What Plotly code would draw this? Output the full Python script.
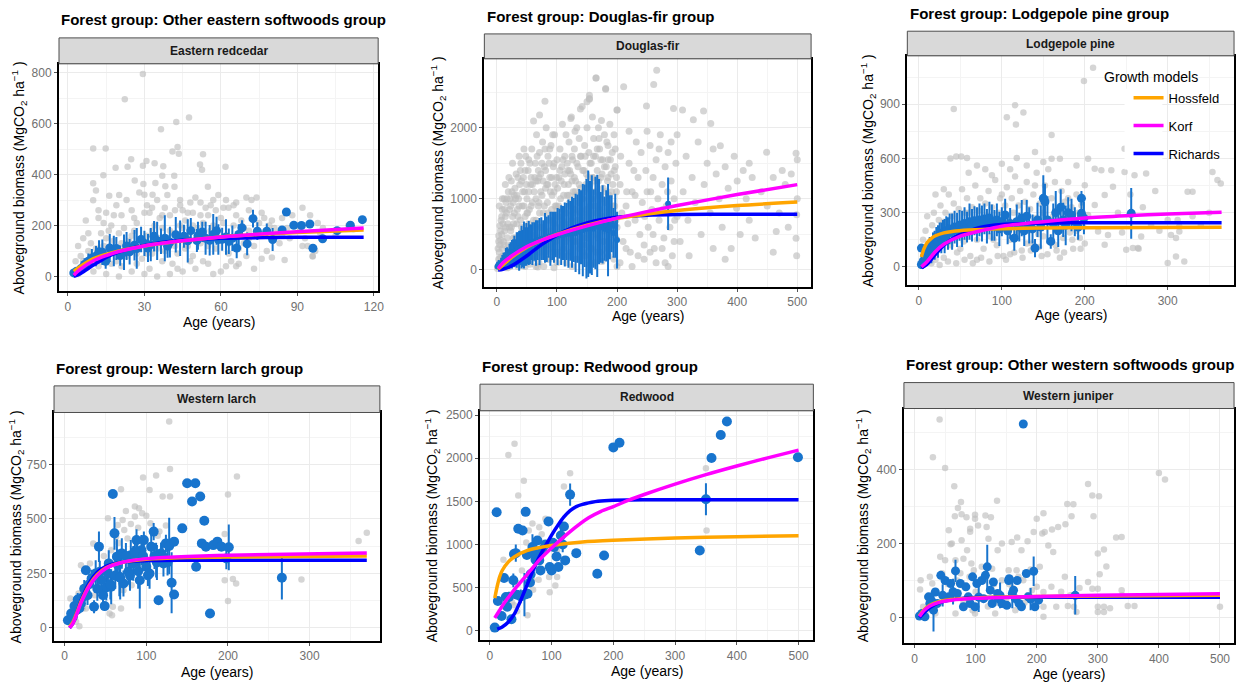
import plotly.graph_objects as go

W, H = 1247, 685

# ---------------- DATA ----------------
titles = ["Forest group: Other eastern softwoods group", "Forest group: Douglas-fir group",
          "Forest group: Lodgepole pine group", "Forest group: Western larch group",
          "Forest group: Redwood group", "Forest group: Other western softwoods group"]
species = ["Eastern redcedar", "Douglas-fir", "Lodgepole pine", "Western larch", "Redwood", "Western juniper"]
model_names = ["Hossfeld", "Korf", "Richards"]

# ---- Eastern redcedar ----
ec_gray = [(29.4,795),(22.3,696),(42.5,607),(47.5,624),(43,508),(43.5,482),(41,491),(36.5,578),(9.9,503),(14.8,503),
           (9.9,366),(9.9,299),(13.9,397),(24.8,460),(23.4,431),(18.7,427),(29.4,435),(30.8,453),(34,445),(37.4,433),
           (37,396),(41.7,396),(41.8,352),(51.8,440),(52.6,419),(54.9,352),(53,480),(61.8,431),(34.3,367),(29.6,363),
           (26.2,377),(30,321),(33.2,321),(38.2,354),(16.2,317),(20.1,320),(11,338),
           (12,230),(15,250),(17,200),(19,280),(21,240),(23,300),(25,260),(27,210),(28,330),(31,280),(32,250),(35,300),
           (36,230),(38,270),(39,320),(40,240),(44,300),(45,260),(46,220),(48,290),(49,250),(50,310),(54,270),(55,240),
           (57,300),(58,260),(59,320),(60,230),(62,300),(63,270),(65,280),(66,240),(68,220),(70,310),(72,300),(74,310),
           (76,250),(77,230),(79,200),(80,220),(83,130),(85,65),(88,240),(92,270),(95,240),(96,80),(97,100),(78,100),
           (80,75),(76,70),(66,40),(64,60),(70,80),(60,20),(57,10),(50,30),(45,20),(40,10),(35,0),(30,10),(25,20),(20,0),
           (15,10),(10,20),(5,30),(3,60),(4,120),(6,150),(8,100),(7,220),(9,80),(11,60),(13,170),(14,120),(16,90),(18,140),
           (20,170),(22,100),(24,140),(26,180),(28,120),(29,70),(31,160),(33,90),(34,200),(36,150),(38,100),(40,180),
           (42,120),(44,200),(46,110),(47,160),(49,80),(51,190),(52,130),(53,60),(56,180),(58,110),(61,150),(63,90),
           (67,160),(69,130),(71,180),(73,120),(75,170),(81,190),(84,160),(86,190),(90,200),(93,150),(94,120),(99,170),
           (100,190),(105,160),(110,200),(112,185),(4,10),(6,60),(12,40),(17,50),(21,40),(27,50),(32,30),(37,60),(41,50),
           (43,30),(48,60),(55,50),(62,40),(67,50),(73,30),(92,120),(96,78),(84,230),
           (5,80),(7,50),(9,130),(11,110),(13,60),(15,150),(17,110),(19,60),(21,130),(23,80),(25,160),(27,90),(29,150),
           (31,90),(33,180),(35,110),(37,190),(39,140),(41,170),(43,90),(45,190),(47,120),(49,200),(51,140),(53,210),
           (55,120),(57,200),(59,150),(61,210),(63,130),(65,200),(67,110),(69,190),(71,150),(75,210),(82,170),(87,150),
           (91,180),(98,210),(14,210),(18,240),(26,230),(30,250),(37,240),(42,260),(47,250),(52,240),(56,280),(61,270),
           (66,290),(71,260),(8,170),(12,260),(16,180),(22,190),(33,270),(44,280),(52,290)]
ec_blue = [(2.3,14,10),(3.4,21,15),(5,30,20),(6.5,47,25),(8,60,30),(9.4,73,35),(11,80,40),(12.2,97,45),(13.5,95,50),
           (14.8,60,30),(16.4,112,55),(18,100,60),(19,110,45),(20.5,82,40),(22,95,70),(23,120,55),(24.2,97,50),
           (26.1,123,60),(27,110,80),(28.7,145,50),(30,130,50),(31.4,112,55),(32.5,125,65),(33.8,158,60),(35,140,75),
           (36.5,138,50),(38,150,90),(39.1,119,45),(40,135,60),(42.3,164,70),(44,150,70),(45.5,158,45),(47,140,85),
           (48.2,180,50),(50.6,141,45),(51,160,55),(52.7,175,40),(54,150,65),(55.6,142,60),(57,165,80),(58.3,180,55),
           (59,145,60),(60.5,146,45),(62,155,70),(63.1,138,50),(64.5,150,50),(66.2,112,40),(67,165,40),(68.3,191,30),
           (70.3,128,45),(72.6,227,35),(74.3,178,35),(78,178,30),(80.3,145,45),(84,183,0),(85.7,253,0),(88.6,201,0),
           (91.6,200,0),(94.9,206,0),(96.1,111,0),(99.9,148,0),(105.6,180,0),(110.8,201,0),(115.5,223,0)]
ec_hossfeld = [(2.3,20),(5,40),(10,70),(15,87),(20,100),(30,120),(45,140),(60,155),(80,168),(100,177),(116,183)]
ec_korf = [(2.3,5),(5,30),(10,62),(15,82),(20,98),(30,120),(45,140),(60,155),(80,170),(100,182),(116,190)]
ec_richards = [(2.3,0),(5,12),(10,45),(15,75),(20,97),(30,122),(45,142),(60,150),(80,153),(100,154),(116,154)]

# ---- Douglas-fir ----
df_gray = [(266,2808),(261,2607),(165,2700),(211,2575),(181,2542),(154,2411),(154,2458),(150,2364),(139,2262),(123,2131),
           (80,2374),(71,2178),(61,2093),(200,2248),(249,2304),(294,2271),(309,2248),(344,2234),(327,2112),(356,2061),
           (372,1748),(449,1654),(498,1640),(499,776),(499,201),(498,444),(465,542),(399,869),
           (1,20),(2,60),(3,150),(4,250),(5,350),(6,420),(7,100),(8,500),(9,300),(10,200),(3,480),(5,620),(7,700),(9,850),
           (2,300),(6,180),(8,40),(10,650),(4,900),(9,1000),
           (11,80),(12,350),(13,550),(14,750),(15,950),(16,150),(17,450),(18,650),(19,1100),(20,250),(21,850),(22,50),
           (23,550),(24,1250),(25,350),(26,750),(27,950),(28,150),(29,1050),(30,450),(12,1000),(14,1200),(18,30),(20,1300),
           (22,1000),(26,1500),(28,650),(30,1150),(16,800),(24,600),
           (31,250),(32,1350),(33,650),(34,850),(35,50),(36,1000),(37,400),(38,1200),(39,700),(40,1500),(41,150),(42,900),
           (43,550),(44,1300),(45,300),(46,1100),(47,750),(48,1600),(49,450),(50,1000),(51,200),(52,1400),(53,650),(54,850),
           (55,80),(56,1200),(57,500),(58,1700),(59,950),(60,350),(33,1050),(37,1600),(41,1250),(45,1700),(47,50),(53,1550),
           (57,1300),(59,150),(35,750),(50,600),
           (62,1100),(63,250),(64,1500),(65,700),(66,1900),(67,450),(68,1250),(69,900),(70,100),(71,1650),(72,600),(73,1350),
           (74,300),(75,1050),(76,1800),(77,800),(78,50),(79,1450),(80,550),(81,1150),(82,2000),(83,350),(84,950),(85,1600),
           (86,700),(87,150),(88,1300),(89,450),(90,1750),(91,850),(92,1050),(93,250),(94,1450),(95,650),(96,1900),(97,1200),
           (98,400),(99,900),(100,1550),(100,100),(65,1250),(70,1300),(75,600),(80,1700),(85,1200),(90,300),(95,1100),(68,40),
           (88,1700),(93,1900),
           (102,750),(103,1300),(104,200),(105,1700),(106,1000),(107,500),(108,1450),(109,2050),(110,850),(111,300),(112,1200),
           (113,1600),(114,650),(115,1900),(116,100),(117,1050),(118,1400),(119,450),(120,1800),(121,950),(122,250),(123,1350),
           (124,2150),(125,700),(126,1550),(127,1100),(128,400),(129,1700),(130,850),(131,1250),(132,150),(133,2000),(134,550),
           (135,1450),(136,950),(137,1850),(138,300),(139,1150),(140,1600),(141,700),(142,2300),(143,1000),(144,450),(145,1400),
           (146,1750),(147,200),(148,1200),(149,850),(150,2000),(110,1550),(120,600),(130,1950),(140,350),(125,1250),
           (151,550),(152,1300),(153,1650),(154,2400),(155,900),(156,300),(157,1500),(158,1100),(159,2150),(160,650),(161,1850),
           (162,1250),(163,100),(164,1600),(165,2700),(166,800),(167,1400),(168,450),(169,2000),(170,1050),(171,1700),(172,250),
           (173,1300),(174,2100),(175,750),(176,1550),(177,1150),(178,400),(179,1900),(180,950),(181,2550),(182,1450),(183,600),
           (184,1250),(185,1750),(186,200),(187,1050),(188,2050),(189,800),(190,1350),(191,500),(192,1650),(193,1200),(194,350),
           (195,1900),(196,900),(197,1450),(198,700),(199,1100),(200,2250),(200,50),(185,1550),(170,1850),(160,1000),(155,1200),
           (205,1200),(210,400),(215,900),(220,1500),(222,250),(225,1100),(230,700),(232,1800),(235,1300),(238,500),(240,1650),
           (242,950),(245,150),(248,1400),(250,1100),(252,600),(255,1750),(258,850),(260,1300),(262,300),(265,1550),(268,1000),
           (270,700),(272,1900),(275,1200),(278,450),(280,1450),(282,900),(285,1650),(288,600),(290,1250),(292,200),(295,1000),
           (298,1500),(300,750),(300,1900),(270,1700),(250,1950),(230,1050),(260,500),(280,100),(220,1950),(290,1800),
           (305,400),(310,1100),(315,1600),(318,700),(320,200),(325,1300),(330,950),(335,1800),(340,500),(345,1200),(350,1500),
           (355,800),(360,300),(365,1350),(370,1000),(375,600),(380,1450),(385,1150),(390,300),(395,1600),(400,1250),(405,500),
           (410,1400),(415,1000),(420,700),(425,1300),(430,450),(440,1100),(450,900),(460,1300),(470,800),(475,1400),(480,1200),
           (485,600),(490,1350),(500,1000),(500,1550),(360,1700),(380,150),(420,1500),(460,250),
           (15,30),(25,80),(35,150),(45,100),(55,300),(65,50),(75,200),(85,350),(95,30),(105,250),(115,400),(125,50),(135,150),
           (145,350),(155,80),(165,250),(175,120),(185,400),(195,150),(205,100),(215,300),(225,50),(235,200),(245,350),(255,250),
           (265,100),(275,300),(285,50),(295,400),(40,350),(60,600),(80,250),(110,650),(130,550),(150,450),(170,600),(190,300),
           (50,800),(70,950),(90,550),(100,850),(120,1050),(140,800),(160,1300),(180,700),(200,600),(130,1100),(150,750),
           (175,1000),(208,800),(218,650),(228,1400),(246,750),(256,1100),(276,850),(284,1100),(296,700),(206,1600),(216,1100),
           (3,400),(6,550),(8,750),(11,400),(13,850),(15,600),(17,1000),(19,350),(21,600),(23,900),(25,1100),(27,450),(29,800),
           (31,1000),(33,400),(35,1300),(37,900),(39,1400),(41,600),(43,1100),(45,900),(47,1400),(49,1200),(51,800),(53,1100),
           (55,1500),(57,900),(59,1200),(61,700),(63,1300),(65,1000),(67,1600),(69,1400),(71,800),(73,1100),(75,1500),
           (77,1250),(79,900),(81,1400),(83,1200),(85,800),(87,1500),(89,1100),(91,1300),(93,700),(95,1500),(97,900),
           (99,1300),(101,1150),(103,900),(105,1400),(107,1250),(109,700),(111,1050),(113,1350),(115,800),(117,1500),
           (119,1200),(121,1400),(123,900),(125,1600),(127,800),(129,1300),(131,1050),(133,1500),(135,700),(137,1200),
           (139,1600),(141,1000),(143,1400),(145,1100),(147,1600),(149,1350),(151,1150),(153,800),(155,1500),(157,1000),
           (159,1300),(161,1600),(163,900),(165,1100),(167,1700),(169,1250),(171,850),(173,1550),(175,1350),(177,650),
           (179,1450),(181,1100),(183,1800),(185,1300),(187,850),(189,1550),(191,1100),(193,900),(195,1400),(197,1700),
           (199,1300),(5,100),(12,200),(18,280),(24,150),(32,350),(38,100),(44,450),(52,350),(58,200),(64,400),(72,250),
           (78,450),(84,150),(92,400),(98,250),(106,600),(112,450),(118,200),(124,500),(132,400),(138,650),(144,250),
           (152,500),(158,300),(166,500),(172,650),(178,550),(184,300),(192,650),(198,450)]
df_blue = [(1,50,40),(3,80,60),(5,60,50),(7,90,80),(9,110,100),(11,120,120),(13,140,110),(15,160,150),(17,180,140),
           (19,170,130),(21,200,170),(23,230,160),(25,220,200),(27,250,180),(29,260,220),(31,240,190),(33,280,250),
           (35,300,230),(37,270,280),(39,310,240),(41,320,300),(43,300,260),(45,350,330),(47,330,270),(49,360,300),
           (51,340,260),(53,380,310),(55,360,280),(57,390,250),(59,370,300),(62,400,270),(65,380,320),(68,420,280),
           (71,400,330),(74,440,300),(77,420,280),(80,450,350),(83,430,320),(86,470,300),(89,440,380),(92,480,340),
           (95,460,360),(98,500,320),(101,470,400),(104,510,350),(107,490,420),(110,520,380),(113,500,450),(116,540,400),
           (119,510,480),(122,550,420),(125,530,500),(128,560,450),(131,520,550),(134,580,480),(137,540,600),(140,600,520),
           (143,560,650),(146,620,580),(149,580,700),(152,650,750),(155,600,650),(158,630,700),(161,580,550),(164,660,650),
           (167,620,720),(170,680,600),(173,600,500),(176,640,550),(179,580,450),(182,620,500),(185,560,650),(188,600,450),
           (191,650,400),(194,520,350),(197,620,450),(200,420,400),(285,930,370)]
df_hossfeld = [(2,10),(10,70),(25,180),(50,320),(75,420),(100,500),(150,630),(200,725),(250,785),(300,835),(400,905),(500,955)]
df_korf = [(2,20),(10,100),(25,200),(50,330),(75,420),(100,495),(150,620),(200,729),(250,820),(300,906),(400,1060),(500,1200)]
df_richards = [(2,0),(10,10),(25,60),(50,200),(75,360),(100,490),(125,590),(150,660),(175,710),(200,740),(250,770),(300,780),
               (400,782),(500,782)]

# ---- Lodgepole pine ----
lp_gray = [(210,1101),(199,1028),(42,873),(116,894),(106,827),(126,854),(117,787),(160,730),(248,653),(51,611),(58,602),
           (118,602),(140,635),(130,561),(88,507),(160,598),(170,598),(204,598),(212,543),(220,534),(232,534),(248,525),
           (260,507),(274,516),(354,525),(364,461),(330,415),(324,415),(300,22),(310,58),(314,196),(314,223),(304,177),
           (312,260),(258,104),(264,104),(268,168),(224,122),(228,177),(216,196),(204,287),(212,342),(224,397),(234,443),
           (200,452),(5,150),(8,200),(10,280),(12,120),(14,60),(16,230),(18,300),(20,180),(22,90),(24,260),(26,340),(28,150),
           (30,50),(32,300),(34,220),(36,400),(38,120),(40,280),(42,350),(44,180),(46,80),(48,320),(50,240),(52,430),(54,140),
           (56,300),(58,380),(60,200),(62,60),(64,330),(66,260),(68,450),(70,150),(72,310),(74,380),(76,220),(78,100),(80,350),
           (82,280),(84,420),(86,170),(88,330),(90,250),(92,480),(94,120),(96,300),(98,380),(100,210),(102,60),(104,340),
           (106,440),(108,260),(110,150),(112,380),(114,300),(116,500),(118,180),(120,340),(122,420),(124,90),(126,270),
           (128,360),(130,470),(132,200),(134,320),(136,130),(138,400),(140,270),(142,520),(144,180),(146,350),(148,60),
           (150,300),(152,450),(154,230),(156,540),(158,140),(160,380),(162,280),(164,470),(166,90),(168,330),(170,220),
           (172,420),(174,160),(176,360),(178,270),(180,470),(182,190),(184,330),(186,100),(188,240),(190,400),(192,300),
           (194,160),(196,340),(198,220),(200,130),(15,20),(25,10),(35,30),(45,20),(55,40),(65,20),(75,50),(85,30),(95,60),
           (105,40),(115,80),(125,50),(135,90),(145,110),(155,70),(165,120),(175,80),(185,150),(195,100),(60,520),(70,560),
           (80,540),(100,570),(110,540),(150,580),(190,560),(38,600),(45,610),(20,400),(30,430),(250,95),(265,100),(280,230),
           (290,200),(300,260),(310,160),(320,30),(330,280),(340,230),(350,300),(360,480),(240,300),(245,190),(255,400),
           (270,330),(285,420),(10,100),(20,40),(30,250),(50,100),(70,40),(90,150),(110,70),(130,130),(150,170),(170,50),
           (190,200),(40,200),(60,300),(80,220),(100,400),(120,250),(140,450),(160,240),(180,380)]
lp_blue = [(3,104,0),(3,13,25),(5,30,40),(7,60,50),(9,45,35),(11,80,60),(13,110,55),(15,90,70),(17,130,60),(19,120,80),
           (21,150,70),(23,140,90),(25,170,75),(27,160,85),(29,190,70),(31,170,95),(33,200,80),(35,185,90),(37,210,85),
           (40,195,100),(43,220,90),(46,205,95),(49,230,85),(52,210,100),(55,240,90),(58,220,85),(61,250,100),(64,230,90),
           (67,255,80),(70,235,95),(73,260,90),(76,240,100),(79,265,85),(82,225,95),(85,270,90),(88,245,100),(91,230,85),
           (94,260,90),(97,210,95),(100,250,80),(104,287,90),(107,200,75),(110,240,85),(115,159,70),(118,250,95),
           (121,220,80),(124,270,100),(127,200,85),(130,280,90),(133,230,100),(137,210,80),(140,104,50),(143,260,95),
           (147,220,120),(150,379,128),(152,360,100),(155,260,130),(159,141,40),(162,240,110),(165,300,120),(168,200,90),
           (171,330,100),(174,260,95),(177,230,110),(180,300,85),(184,287,90),(188,250,80),(192,220,70),(196,379,40),
           (196,296,60),(199,270,90),(256,296,140)]
lp_hossfeld = [(3,55),(6,100),(10,135),(15,158),(20,172),(30,188),(40,196),(60,204),(100,211),(150,215),(200,217),(365,219)]
lp_korf = [(3,0),(10,30),(20,85),(30,125),(50,170),(75,200),(100,225),(150,250),(200,270),(250,283),(300,293),(365,302)]
lp_richards = [(3,-5),(10,15),(20,70),(30,120),(40,155),(50,180),(75,220),(100,235),(150,242),(200,244),(365,244)]

# ---- Western larch ----
wl_gray = [(128,948),(129,729),(112,700),(96,690),(104,633),(69,637),(129,603),(120,603),(86,557),(91,549),(75,537),
           (95,526),(100,515),(53,503),(71,495),(81,477),(86,511),(65,472),(73,449),(116,442),(114,423),(200,613),(211,695),
           (196,431),(196,219),(206,225),(210,204),(200,123),(290,222),(360,399),(370,437),(26,89),(17,158),(20,288),(31,296),
           (14,28),(18,8),(7,135),(11,50),(22,173),(37,150),(43,158),(59,97),(55,66),(69,89),(72,173),(82,196),(57,357),
           (43,219),(22,89),(35,388),(63,419),(58,58),(48,330),(77,410),(90,460),(105,480),(124,470),(66,390)]
wl_blue = [(4,35,0),(8,66,0),(14,81,20),(20,112,30),(26,265,0),(33,227,40),(36,97,30),(42,373,70),(43,258,50),(47,150,45),
           (49,100,0),(51,186,60),(54,296,60),(57,189,80),(59,615,0),(61,434,75),(64,327,80),(67,235,90),(70,342,70),
           (72,204,60),(78,258,60),(81,334,70),(84,296,80),(88,403,50),(89,342,60),(92,219,130),(94,357,70),(97,403,40),
           (100,281,60),(102,242,50),(106,373,60),(109,442,40),(112,311,80),(115,127,0),(118,342,50),(121,296,60),
           (124,388,40),(128,376,130),(131,207,140),(134,396,0),(134,153,0),(144,457,0),(150,664,0),(156,580,0),(160,664,0),
           (161,281,0),(166,603,0),(171,492,0),(168,388,0),(173,373,0),(178,66,0),(182,380,0),(187,396,0),(192,373,0),
           (198,319,50),(201,370,105),(266,230,100),(10,50,15),(12,100,25),(16,130,30),(18,90,25),(22,140,35),(24,180,40),
           (28,150,45),(30,200,50),(38,250,60),(40,180,55),(45,220,50),(53,250,60),(56,200,70),(62,240,60),(65,290,70),
           (68,230,100),(75,330,60),(80,240,70),(86,350,70),(90,260,80),(96,330,70),(104,250,70),(110,330,60),(113,300,80),
           (120,330,50),(126,300,60)]
wl_hossfeld = [(6,5),(10,25),(15,70),(20,120),(30,195),(40,245),(50,275),(70,300),(100,315),(150,323),(200,326),(370,330)]
wl_korf = [(6,0),(10,20),(15,65),(20,115),(30,190),(40,240),(50,272),(70,300),(100,318),(150,328),(200,334),(370,344)]
wl_richards = [(6,0),(10,20),(15,70),(20,125),(30,205),(40,255),(50,282),(70,302),(100,309),(150,311),(370,311)]

# ---- Redwood ----
rw_gray = [(40,2169),(30,2038),(55,1741),(46,1568),(130,1826),(120,1672),(69,1244),(80,1202),(63,1163),(75,1028),(59,1024),
           (81,920),(98,1009),(109,932),(22,824),(79,593),(96,624),(109,624),(106,527),(97,447),(70,477),(44,227),(61,181),
           (39,297),(350,1884),(351,1163),(88,932),(105,1009),(69,586),(45,547),(90,1300),(84,1120),(52,700),(36,330)]
rw_blue = [(8,38,0),(11,1375,0),(13,347,0),(19,173,0),(23,612,40),(26,393,0),(31,393,60),(35,135,0),(38,586,80),
           (42,901,100),(46,1183,0),(53,1163,0),(56,420,250),(58,1379,0),(61,431,0),(66,655,0),(69,971,150),(74,824,0),
           (77,1048,0),(80,817,0),(82,701,0),(85,940,0),(95,1267,0),(97,740,0),(100,701,0),(104,971,0),(108,863,0),
           (111,740,0),(115,1105,90),(120,1210,0),(122,817,0),(130,1579,130),(140,901,0),(174,663,0),(185,874,0),
           (200,2126,0),(210,2180,0),(340,932,0),(350,1525,185),(359,2003,0),(374,2269,0),(384,2427,0),(499,2011,0),
           (28,280,0),(44,420,0),(50,400,80),(65,560,0),(72,900,0),(90,1000,0),(102,1020,0),(118,1000,90),(60,880,0),(39,890,0)]
rw_hossfeld = [(8,380),(12,520),(16,630),(20,700),(30,800),(40,860),(60,930),(80,965),(100,990),(150,1030),(200,1050),
               (300,1075),(400,1092),(500,1103)]
rw_korf = [(8,150),(15,230),(25,340),(40,480),(60,650),(80,820),(100,960),(130,1150),(160,1310),(180,1385),(200,1440),
           (225,1515),(250,1580),(300,1700),(350,1810),(400,1910),(450,2005),(500,2095)]
rw_richards = [(12,20),(20,46),(30,104),(40,200),(50,354),(60,528),(70,701),(80,855),(90,985),(100,1110),(110,1221),
               (120,1320),(130,1394),(140,1440),(150,1466),(165,1490),(175,1502),(200,1514),(250,1519),(350,1520),(500,1520)]

# ---- Western juniper ----
wj_gray = [(41,535),(30,433),(50,404),(65,355),(76,312),(71,296),(66,274),(77,279),(85,271),(99,278),(99,267),(104,249),
           (116,276),(125,271),(135,316),(118,245),(56,236),(61,200),(59,198),(91,240),(91,232),(77,209),(86,182),(121,213),
           (143,200),(136,182),(159,204),(168,216),(185,206),(195,231),(200,267),(211,282),(209,227),(213,231),(219,195),
           (227,177),(225,238),(235,245),(247,252),(250,307),(260,306),(257,274),(284,361),(291,330),(302,328),(293,274),
           (300,173),(303,117),(310,184),(314,138),(330,216),(339,218),(339,74),(349,31),(360,31),(400,391),(410,373),(500,29),
           (284,96),(291,78),(300,78),(300,29),(300,15),(310,29),(310,15),(246,110),(251,31),(261,29),(265,15),(224,83),
           (232,29),(211,69),(211,29),(211,2),(200,83),(197,29),(10,101),(9,76),(14,29),(21,56),(29,92),(42,164),(50,155),
           (67,155),(80,159),(93,146),(97,128),(110,137),(127,132),(143,101),(154,128),(167,128),(178,101),(192,74),(205,137),
           (165,20),(132,11),(99,11),(67,11),(34,11),(175,182),(20,20),(40,40),(60,60),(80,40),(100,70),(120,30),(140,60),
           (160,80),(180,40),(200,50),(25,110),(45,120),(70,100),(90,110),(105,60),(130,90),(150,50),(170,110),(190,130),
           (35,70),(55,90),(75,120),(95,20),(115,100),(135,40),(155,90),(185,60),(240,70),(255,60),(270,80),(320,25),(340,60)]
wj_blue = [(178,523,0),(8,4,0),(12,11,0),(17,2,0),(23,56,0),(25,38,0),(31,20,58),(34,69,0),(37,38,0),(43,114,0),(50,100,0),
           (56,56,0),(59,92,0),(67,126,30),(70,65,0),(75,92,0),(80,29,0),(84,83,0),(88,56,0),(91,38,0),(95,110,0),(99,29,0),
           (102,92,0),(110,100,0),(113,51,0),(116,114,0),(119,137,60),(124,74,0),(127,38,0),(129,96,0),(136,65,0),(137,51,0),
           (143,38,0),(151,33,0),(154,100,0),(155,105,0),(162,74,0),(165,51,0),(168,100,0),(171,38,0),(175,29,0),(183,119,0),
           (186,56,0),(195,125,40),(197,29,0),(203,47,0),(263,60,52),(28,45,25),(46,60,30),(63,70,35),(105,55,40),(140,60,35),
           (160,65,40),(190,50,30)]
wj_hossfeld = [(8,5),(15,20),(25,33),(40,43),(60,49),(100,53),(200,57),(300,58),(500,60)]
wj_korf = [(8,3),(15,18),(25,31),(40,41),(60,47),(100,52),(200,57),(300,60),(500,64)]
wj_richards = [(8,0),(15,12),(25,27),(40,40),(60,48),(80,52),(100,54),(200,55),(500,55)]

# ---------------- LAYOUT (pixel geometry) ----------------
boxes = [(59.3, 62, 380, 290), (486.7, 57, 815, 285.7), (911.7, 54, 1240, 284),
         (54.3, 411.7, 381.7, 640.7), (482.3, 410, 817.3, 640), (908.3, 407.7, 1240, 643.3)]
strip_tops = [36, 32, 29.3, 385, 383.3, 381.7]
title_pos = [(59, 18), (487, 15), (912, 11.7), (54, 367.3), (482, 366), (908, 363.3)]
ytitle_pos = [(20, 176), (440, 171), (872, 169), (17, 526), (435, 525), (868, 525)]
xtitle_y = [321, 315, 314, 672, 671, 674]
xranges = [(-3.5, 121.7), (-20.9, 523), (-14, 380), (-13, 386), (-16, 524), (-17.4, 523)]
yranges = [(-57.6, 835), (-238, 2969), (-101, 1167), (-59.5, 989), (-107, 2550), (-70, 565)]
xdticks = [(30, 15), (100, 50), (100, 50), (100, 50), (100, 50), (100, 50)]
ydticks = [(200, 100), (1000, 500), (300, 150), (250, 125), (500, 250), (200, 100)]
blue_sizes = [9, 6, 9, 10, 10, 9]
gray_sizes = [6.5, 7, 6.5, 6.5, 6.5, 6.5]

panels = [
    (ec_gray, ec_blue, ec_hossfeld, ec_korf, ec_richards),
    (df_gray, df_blue, df_hossfeld, df_korf, df_richards),
    (lp_gray, lp_blue, lp_hossfeld, lp_korf, lp_richards),
    (wl_gray, wl_blue, wl_hossfeld, wl_korf, wl_richards),
    (rw_gray, rw_blue, rw_hossfeld, rw_korf, rw_richards),
    (wj_gray, wj_blue, wj_hossfeld, wj_korf, wj_richards),
]

FONT = "Arial"
GRAY = "rgba(190,190,190,0.65)"
BLUE = "#1874CD"
curve_colors = {"Hossfeld": "#FFA500", "Korf": "#FF00FF", "Richards": "#0000FF"}


def fx(p):
    return p / W


def fy(p):
    return 1 - p / H


fig = go.Figure()
layout = dict(width=W, height=H, margin=dict(l=0, r=0, t=0, b=0, pad=0), paper_bgcolor="white",
              plot_bgcolor="white", font=dict(family=FONT, size=12), showlegend=True)
shapes, annotations = [], []

for i, (gray, blue, hoss, korf, rich) in enumerate(panels):
    n = i + 1
    xa = "x" if n == 1 else f"x{n}"
    ya = "y" if n == 1 else f"y{n}"
    l, t, r, b = boxes[i]
    common = dict(showline=True, mirror=True, linecolor="black", linewidth=2, ticks="outside", ticklen=3,
                  tickcolor="#555555", tickwidth=1, tickfont=dict(size=12, color="#707070", family=FONT),
                  showgrid=True, gridcolor="#ebebeb", gridwidth=1, zeroline=False)
    layout["xaxis" if n == 1 else f"xaxis{n}"] = dict(
        domain=[fx(l), fx(r)], range=list(xranges[i]), anchor=ya, dtick=xdticks[i][0], tick0=0,
        minor=dict(dtick=xdticks[i][1], tick0=0, showgrid=True, gridcolor="#f4f4f4", gridwidth=1, ticks=""), **common)
    layout["yaxis" if n == 1 else f"yaxis{n}"] = dict(
        domain=[fy(b), fy(t)], range=list(yranges[i]), anchor=xa, dtick=ydticks[i][0], tick0=0,
        minor=dict(dtick=ydticks[i][1], tick0=0, showgrid=True, gridcolor="#f4f4f4", gridwidth=1, ticks=""), **common)

    fig.add_trace(go.Scatter(x=[p[0] for p in gray], y=[p[1] for p in gray], mode="markers", xaxis=xa, yaxis=ya,
                             marker=dict(color=GRAY, size=gray_sizes[i], line=dict(width=0)), showlegend=False,
                             hoverinfo="skip"))
    fig.add_trace(go.Scatter(x=[p[0] for p in blue], y=[p[1] for p in blue], mode="markers", xaxis=xa, yaxis=ya,
                             marker=dict(color=BLUE, size=blue_sizes[i], line=dict(width=0)),
                             error_y=dict(type="data", array=[p[2] for p in blue], visible=True, width=0,
                                          thickness=2, color=BLUE),
                             showlegend=False, hoverinfo="skip"))
    for name, data, rank in (("Richards", rich, 3), ("Hossfeld", hoss, 1), ("Korf", korf, 2)):
        fig.add_trace(go.Scatter(x=[p[0] for p in data], y=[p[1] for p in data], mode="lines", xaxis=xa, yaxis=ya,
                                 line=dict(color=curve_colors[name], width=3.5, shape="spline", smoothing=0.8),
                                 name=name, legendgroup=name, legendrank=rank, showlegend=(n == 3)))

    st = strip_tops[i]
    shapes.append(dict(type="rect", xref="paper", yref="paper", x0=fx(l), x1=fx(r), y0=fy(t), y1=fy(st),
                       fillcolor="#d9d9d9", line=dict(color="#4d4d4d", width=1), layer="above"))
    annotations.append(dict(text=species[i], xref="paper", yref="paper", x=fx((l + r) / 2),
                            y=fy((st + t) / 2), showarrow=False, xanchor="center", yanchor="middle",
                            font=dict(size=12, color="#1a1a1a", family=FONT, weight="bold")))
    tx, ty = title_pos[i]
    annotations.append(dict(text=titles[i], xref="paper", yref="paper", x=fx(tx), y=fy(ty),
                            showarrow=False, xanchor="left", yanchor="middle",
                            font=dict(size=15, color="black", family=FONT, weight="bold")))
    yx, yy = ytitle_pos[i]
    annotations.append(dict(text="Aboveground biomass (MgCO<sub>2</sub> ha<sup>−1</sup> )", xref="paper", yref="paper",
                            x=fx(yx), y=fy(yy), showarrow=False, textangle=-90, xanchor="center", yanchor="middle",
                            font=dict(size=14, color="black", family=FONT)))
    annotations.append(dict(text="Age (years)", xref="paper", yref="paper", x=fx((l + r) / 2), y=fy(xtitle_y[i]),
                            showarrow=False, xanchor="center", yanchor="middle",
                            font=dict(size=14, color="black", family=FONT)))

# white legend-key background (ggplot legend keys) in the Lodgepole pine panel
shapes.append(dict(type="rect", xref="paper", yref="paper", x0=fx(1130), x1=fx(1168), y0=fy(168), y1=fy(87),
                   fillcolor="white", line=dict(width=0), layer="above"))
annotations.append(dict(text="Growth models", xref="paper", yref="paper", x=fx(1107), y=fy(75.5), showarrow=False,
                        xanchor="left", yanchor="middle", font=dict(size=14, color="black", family=FONT)))

layout["shapes"] = shapes
layout["annotations"] = annotations
layout["legend"] = dict(x=fx(1134), y=fy(81), xanchor="left", yanchor="top", bgcolor="rgba(0,0,0,0)",
                        font=dict(size=13, color="black", family=FONT), tracegroupgap=8, itemwidth=30)
fig.update_layout(**layout)
fig.write_html("out.html", config={"displayModeBar": False},
               post_script="document.body.style.margin='0px';document.body.style.overflow='hidden';")
